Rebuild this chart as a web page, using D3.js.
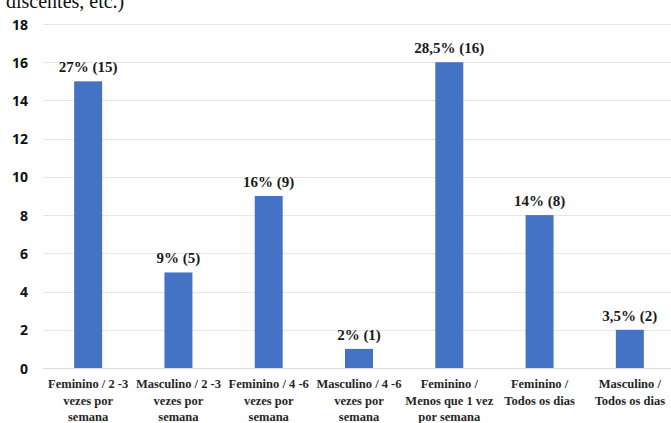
<!DOCTYPE html>
<html>
<head>
<meta charset="utf-8">
<script src="https://cdn.jsdelivr.net/npm/d3@7"></script>
<style>
  html, body { margin: 0; padding: 0; background: #fff; }
  svg { display: block; }
  .serif { font-family: "Liberation Serif", "Times New Roman", Times, serif; }
  .sans { font-family: "Open Sans", "Liberation Sans", sans-serif; }
</style>
</head>
<body>
<svg id="chart" width="671" height="423"></svg>
<script>
// Frequency by sex and weekly frequency
const categories = [
  "Feminino / 2 -3\nvezes por\nsemana",
  "Masculino / 2 -3\nvezes por\nsemana",
  "Feminino / 4 -6\nvezes por\nsemana",
  "Masculino / 4 -6\nvezes por\nsemana",
  "Feminino /\nMenos que 1 vez\npor semana",
  "Feminino /\nTodos os dias",
  "Masculino /\nTodos os dias"
];
const counts = [15, 5, 9, 1, 16, 8, 2];
const percents = ["27%", "9%", "16%", "2%", "28,5%", "14%", "3,5%"];
const yTicks = [0, 2, 4, 6, 8, 10, 12, 14, 16, 18];
const captionTail = "discentes, etc.)";

const svg = d3.select("#chart");
const W = 671, H = 423;
const plot = { left: 43, right: 675, top: 24, bottom: 368 };

const x = d3.scaleBand()
  .domain(d3.range(categories.length))
  .range([plot.left, plot.right])
  .padding(0);
const barW = x.bandwidth() * 0.31;

const y = d3.scaleLinear()
  .domain([0, 18])
  .range([plot.bottom, plot.top]);

// Caption line continuing from above the chart
svg.append("text")
  .attr("class", "serif")
  .attr("x", 6)
  .attr("y", 8)
  .attr("font-size", 20)
  .attr("fill", "#111")
  .text(captionTail);

// Gridlines
svg.append("g")
  .selectAll("line")
  .data(yTicks)
  .join("line")
  .attr("x1", plot.left)
  .attr("x2", W)
  .attr("y1", d => Math.round(y(d)) + 0.5)
  .attr("y2", d => Math.round(y(d)) + 0.5)
  .attr("stroke", d => d === 0 ? "#d9d9d9" : "#e6e6e6")
  .attr("stroke-width", 1);

// Y axis labels
const yAxis = d3.axisLeft(y).tickValues(yTicks).tickSize(0).tickPadding(0);
const gy = svg.append("g")
  .attr("transform", `translate(28,0)`)
  .call(yAxis);
gy.select(".domain").remove();
gy.attr("font-family", null);
gy.selectAll("text")
  .attr("class", "sans")
  .attr("font-weight", 700)
  .attr("font-size", 14)
  .attr("fill", "#111")
  .attr("dy", "0.36em");

// Bars
svg.append("g")
  .selectAll("rect")
  .data(counts)
  .join("rect")
  .attr("x", (d, i) => x(i) + (x.bandwidth() - barW) / 2)
  .attr("y", d => y(d))
  .attr("width", barW)
  .attr("height", d => y(0) - y(d))
  .attr("fill", "#4472c4");

// Value labels
svg.append("g")
  .selectAll("text")
  .data(counts)
  .join("text")
  .attr("class", "serif")
  .attr("x", (d, i) => x(i) + x.bandwidth() / 2)
  .attr("y", d => y(d) - 9)
  .attr("text-anchor", "middle")
  .attr("font-weight", 700)
  .attr("font-size", 15)
  .attr("fill", "#1a1a1a")
  .text((d, i) => `${percents[i]} (${d})`);

// Category labels (multi-line)
const cat = svg.append("g")
  .selectAll("text")
  .data(categories)
  .join("text")
  .attr("class", "serif")
  .attr("x", (d, i) => x(i) + x.bandwidth() / 2)
  .attr("y", 388)
  .attr("text-anchor", "middle")
  .attr("font-weight", 700)
  .attr("font-size", 12.5)
  .attr("fill", "#262626");
cat.each(function(d, i) {
  const t = d3.select(this);
  const cx = x(i) + x.bandwidth() / 2;
  d.split("\n").forEach((line, k) => {
    t.append("tspan")
      .attr("x", cx)
      .attr("dy", k === 0 ? 0 : 16.5)
      .text(line);
  });
});
</script>
</body>
</html>
